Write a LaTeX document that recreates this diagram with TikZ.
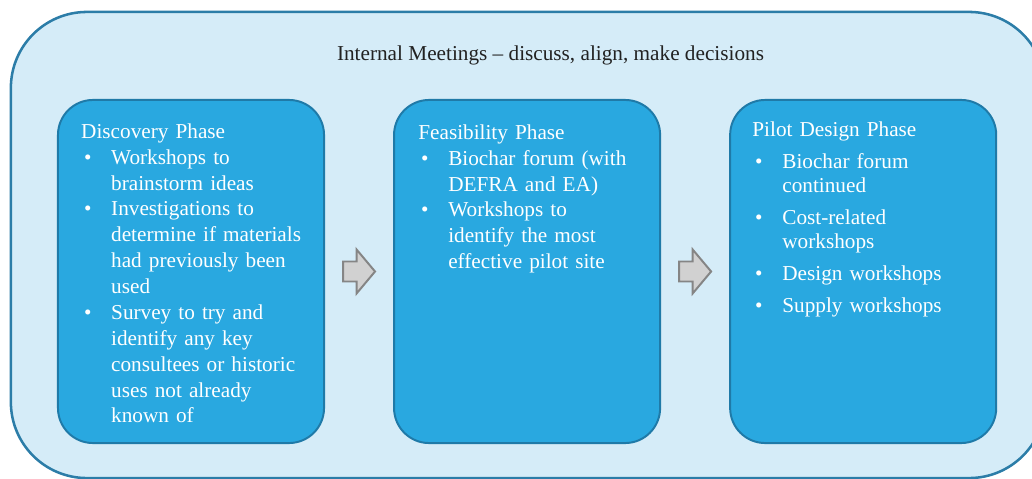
\documentclass[tikz,border=0pt]{standalone}
\usepackage{fontspec}
\setmainfont{Liberation Serif}
\usetikzlibrary{positioning, calc, shapes.arrows}

\definecolor{meetfill}{HTML}{D5ECF8}
\definecolor{meetdraw}{HTML}{2C7DA8}
\definecolor{phasefill}{HTML}{29A8E0}
\definecolor{phasedraw}{HTML}{1F7AA8}
\definecolor{arrfill}{HTML}{D1D1D1}
\definecolor{arrdraw}{HTML}{858585}
\definecolor{titletext}{HTML}{222222}

% bullet line with hanging indent
\newcommand{\phaseitem}[1]{\par\noindent\hangindent=21.3pt\hangafter=1%
  \makebox[21.3pt][l]{\hspace{2pt}\textbullet}#1\par}

\tikzset{
  meetbox/.style={
    draw=meetdraw, fill=meetfill, line width=1.8pt,
    rounded corners=1.9cm,
    minimum width=25.85cm, minimum height=11.65cm,
  },
  phasebox/.style={
    draw=phasedraw, fill=phasefill, line width=1.4pt,
    rounded corners=0.875cm, outer sep=0pt,
    minimum width=6.65cm, minimum height=8.575cm,
  },
  phasetext/.style={
    anchor=north west, inner sep=0pt,
    text width=6cm, align=left, text=white,
    font=\fontsize{15.1pt}{18.4pt}\selectfont,
  },
  steparrow/.style={
    single arrow, draw=arrdraw, fill=arrfill, line width=1.4pt,
    minimum height=0.8cm, inner xsep=0pt, inner ysep=0.225cm,
    single arrow head extend=0.3cm, single arrow tip angle=100,
    anchor=tail,
  },
}

\begin{document}
\begin{tikzpicture}[x=0.025cm, y=-0.025cm]
\useasboundingbox (0,0) rectangle (1032,479);
\clip (0,0) rectangle (1032,479);

%% outer frame
\node[meetbox] (meet) at (528,245) {};
\node[anchor=base, text=titletext, font=\fontsize{15.1pt}{18.2pt}\selectfont]
  (title) at ($(meet.north)+(22.5,50)$)
  {Internal Meetings – discuss, align, make decisions};

%% phase boxes
\node[phasebox] (disc) at (191,271.5) {};
\node[phasebox, right=1.75cm of disc] (feas) {};
\node[phasebox, right=1.75cm of feas] (pilot) {};

%% box texts
\node[phasetext] (disctext) at ($(disc.north west)+(23,20)$)
  {\noindent\strut Discovery Phase
   \phaseitem{Workshops to\newline brainstorm ideas}
   \phaseitem{Investigations to\newline determine if materials\newline
     had previously been\newline used}
   \phaseitem{Survey to try and\newline identify any key\newline
     consultees or historic\newline uses not already\newline known of}};

\node[phasetext] (feastext) at ($(feas.north west)+(24,21)$)
  {\noindent\strut Feasibility Phase
   \phaseitem{Biochar forum (with\newline DEFRA and EA)}
   \phaseitem{Workshops to\newline identify the most\newline effective pilot site}};

\node[phasetext, font=\fontsize{15.1pt}{17pt}\selectfont] (pilottext)
  at ($(pilot.north west)+(22,20)$)
  {\noindent\strut Pilot Design Phase\par
   \setlength{\parskip}{5.7pt}%
   \phaseitem{Biochar forum\newline continued}
   \phaseitem{Cost-related\newline workshops}
   \phaseitem{Design workshops}
   \phaseitem{Supply workshops}};

%% arrows between phases
\node[steparrow] (arr1) at ($(disc.east)+(18,0)$) {};
\node[steparrow] (arr2) at ($(feas.east)+(18,0)$) {};

\end{tikzpicture}
\end{document}
